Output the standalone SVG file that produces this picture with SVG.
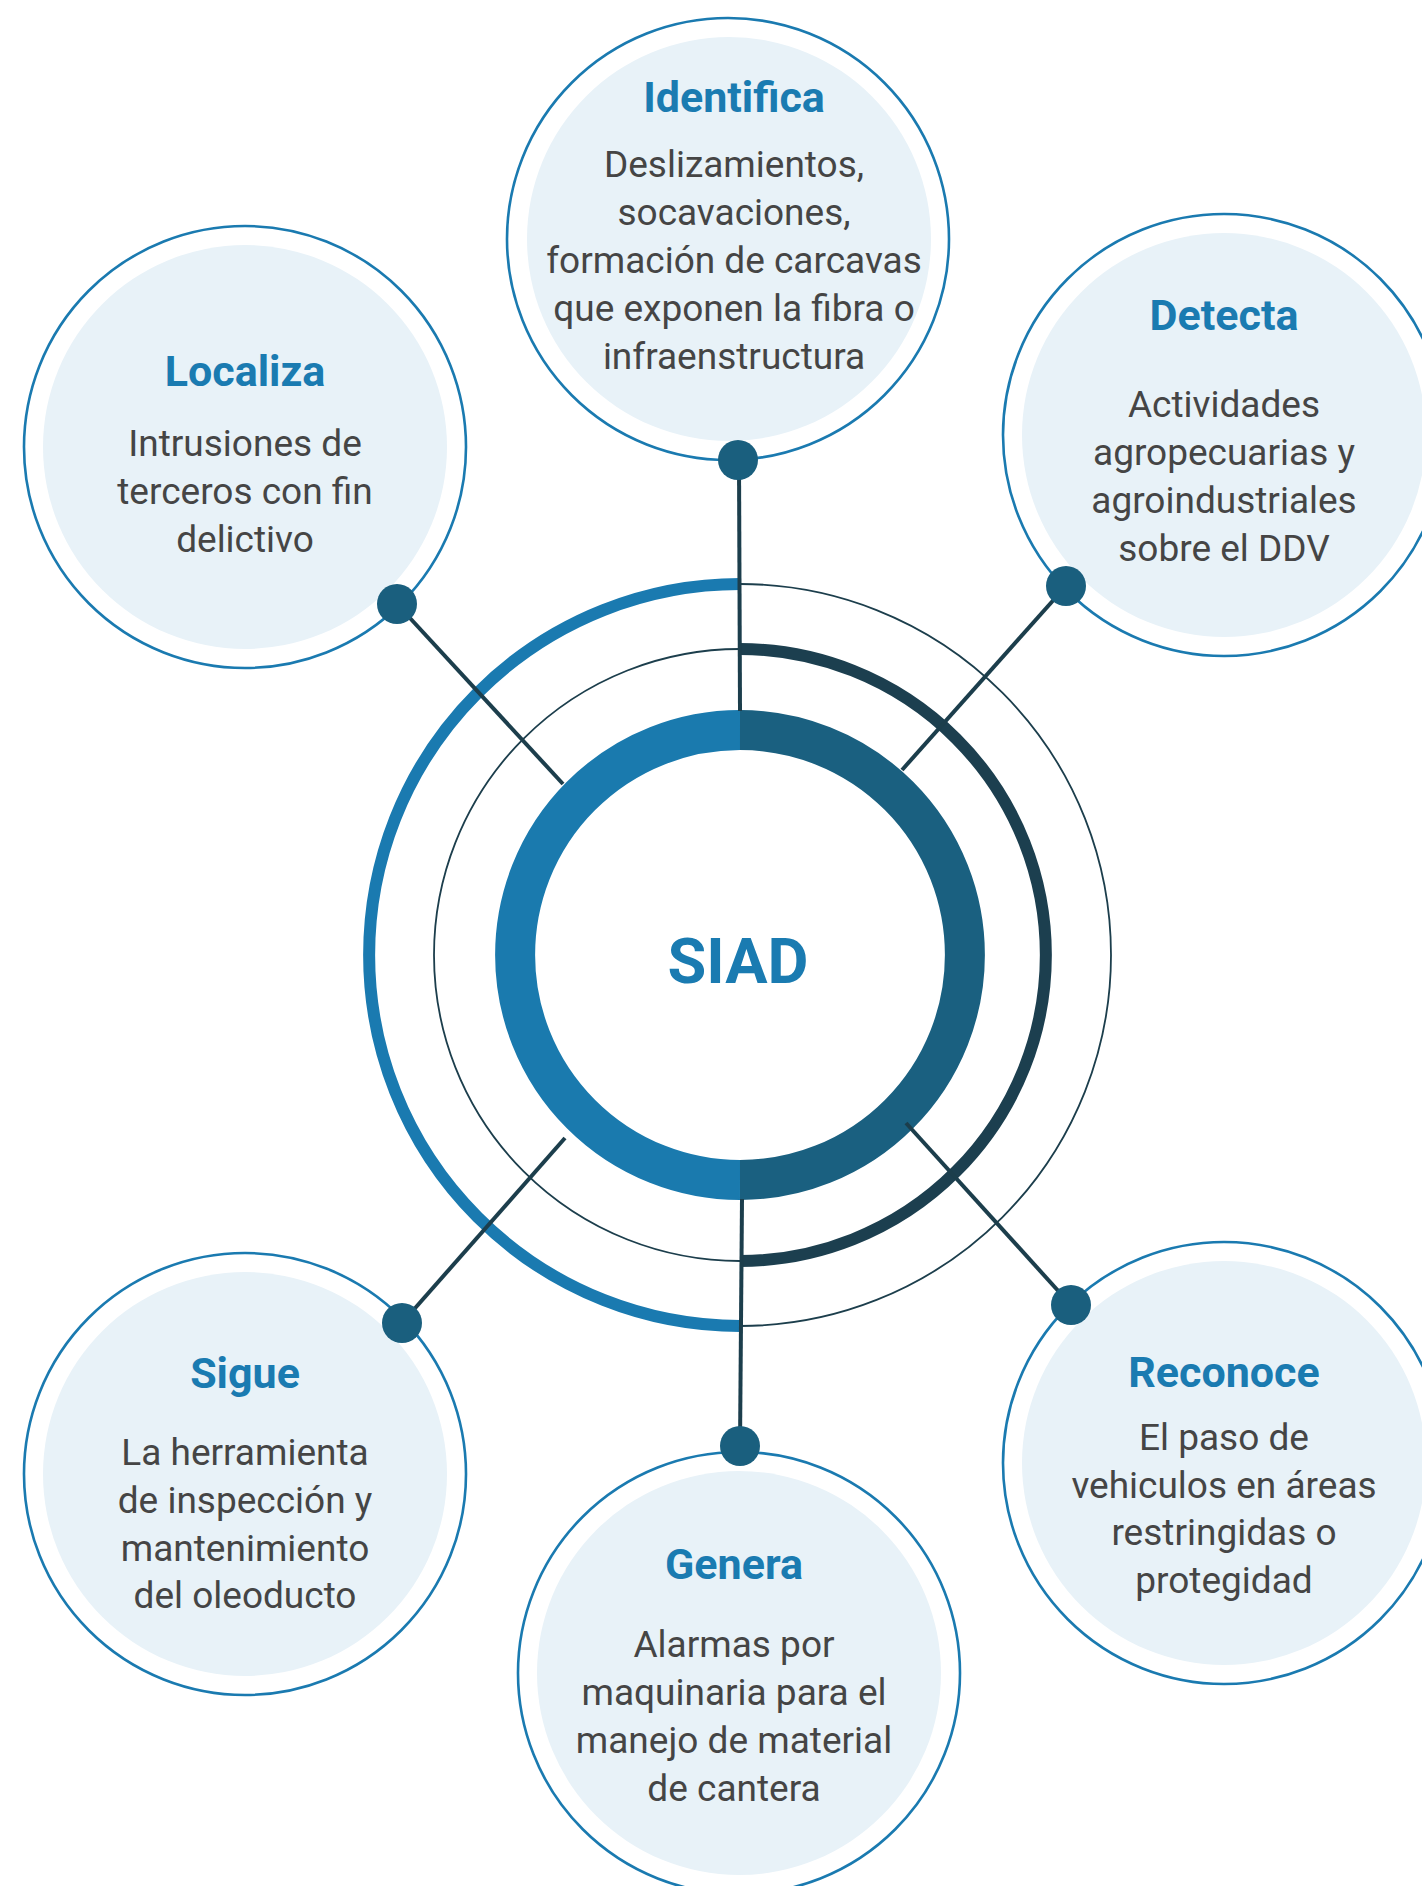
<svg xmlns="http://www.w3.org/2000/svg" width="1422" height="1886" viewBox="0 0 1422 1886">
<style>
.ring{fill:#ffffff;stroke:#1a7ab0;stroke-width:2.6}
.fill{fill:#e8f2f8}
.title{font-family:Roboto,"Liberation Sans",sans-serif;font-weight:700;font-size:43px;fill:#1a7bb1;text-anchor:middle}
.body{font-family:Roboto,"Liberation Sans",sans-serif;font-weight:400;font-size:37px;fill:#454545;text-anchor:middle}
.thin{fill:none;stroke:#1c3e4c;stroke-width:1.8}
.conn{stroke:#1c3e4c;stroke-width:4;fill:none}
.dot{fill:#1a5f7e}
</style>
<rect width="1422" height="1886" fill="#ffffff"/>
<g id="hub">
<circle class="thin" cx="740" cy="955" r="371"/>
<circle class="thin" cx="740" cy="955" r="306"/>
<path d="M740,584 A371,371 0 0 0 740,1326" fill="none" stroke="#1a7ab0" stroke-width="12"/>
<path d="M740,649 A306,306 0 0 1 740,1261" fill="none" stroke="#1c3f4f" stroke-width="12"/>
<path d="M740,730 A225,225 0 0 0 740,1180" fill="none" stroke="#1a7aae" stroke-width="40"/>
<path d="M740,730 A225,225 0 0 1 740,1180" fill="none" stroke="#1a6080" stroke-width="40"/>
<text x="738" y="983" font-family="Roboto,'Liberation Sans',sans-serif" font-weight="700" font-size="63" fill="#1a7bb1" text-anchor="middle">SIAD</text>
</g>
<g id="identifica">
<circle class="ring" cx="728" cy="239" r="221"/>
<circle class="fill" cx="729" cy="239" r="202"/>
<text class="title" x="734" y="112">Identifica</text>
<text class="body" x="734" y="177">Deslizamientos,</text>
<text class="body" x="734" y="225">socavaciones,</text>
<text class="body" x="734" y="273">formación de carcavas</text>
<text class="body" x="734" y="321">que exponen la fibra o</text>
<text class="body" x="734" y="369">infraenstructura</text>
</g>
<g id="localiza">
<circle class="ring" cx="245" cy="447" r="221"/>
<circle class="fill" cx="245" cy="447" r="202"/>
<text class="title" x="245" y="386">Localiza</text>
<text class="body" x="245" y="456">Intrusiones de</text>
<text class="body" x="245" y="504">terceros con fin</text>
<text class="body" x="245" y="552">delictivo</text>
</g>
<g id="detecta">
<circle class="ring" cx="1224" cy="435" r="221"/>
<circle class="fill" cx="1224" cy="435" r="202"/>
<text class="title" x="1224" y="330">Detecta</text>
<text class="body" x="1224" y="417">Actividades</text>
<text class="body" x="1224" y="465">agropecuarias y</text>
<text class="body" x="1224" y="513">agroindustriales</text>
<text class="body" x="1224" y="561">sobre el DDV</text>
</g>
<g id="sigue">
<circle class="ring" cx="245" cy="1474" r="221"/>
<circle class="fill" cx="245" cy="1474" r="202"/>
<text class="title" x="245" y="1388">Sigue</text>
<text class="body" x="245" y="1465">La herramienta</text>
<text class="body" x="245" y="1513">de inspección y</text>
<text class="body" x="245" y="1561">mantenimiento</text>
<text class="body" x="245" y="1608">del oleoducto</text>
</g>
<g id="genera">
<circle class="ring" cx="739" cy="1673" r="221"/>
<circle class="fill" cx="739" cy="1673" r="202"/>
<text class="title" x="734" y="1579">Genera</text>
<text class="body" x="734" y="1657">Alarmas por</text>
<text class="body" x="734" y="1705">maquinaria para el</text>
<text class="body" x="734" y="1753">manejo de material</text>
<text class="body" x="734" y="1801">de cantera</text>
</g>
<g id="reconoce">
<circle class="ring" cx="1224" cy="1463" r="221"/>
<circle class="fill" cx="1224" cy="1463" r="202"/>
<text class="title" x="1224" y="1387">Reconoce</text>
<text class="body" x="1224" y="1450">El paso de</text>
<text class="body" x="1224" y="1498">vehiculos en áreas</text>
<text class="body" x="1224" y="1545">restringidas o</text>
<text class="body" x="1224" y="1593">protegidad</text>
</g>
<g id="connectors">
<line class="conn" x1="739" y1="460" x2="740" y2="711"/>
<line class="conn" x1="742" y1="1199" x2="740" y2="1446"/>
<line class="conn" x1="397" y1="604" x2="563" y2="784"/>
<line class="conn" x1="1066" y1="586" x2="902" y2="770"/>
<line class="conn" x1="402" y1="1323" x2="565" y2="1138"/>
<line class="conn" x1="1071" y1="1305" x2="906" y2="1123"/>
<circle class="dot" cx="738" cy="460" r="20"/>
<circle class="dot" cx="740" cy="1446" r="20"/>
<circle class="dot" cx="397" cy="604" r="20"/>
<circle class="dot" cx="1066" cy="586" r="20"/>
<circle class="dot" cx="402" cy="1323" r="20"/>
<circle class="dot" cx="1071" cy="1305" r="20"/>
</g>
</svg>
